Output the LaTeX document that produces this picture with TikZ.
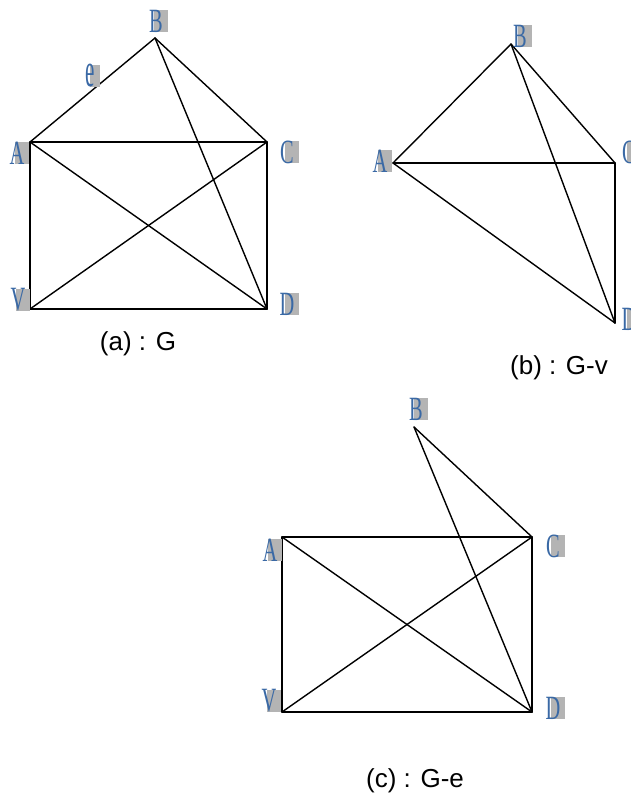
\documentclass[tikz,border=0pt]{standalone}
\usepackage{fontspec}
\usepackage{graphicx}
\newfontfamily\capfont{Liberation Sans}
\newfontfamily\vfont{Liberation Serif}
\definecolor{lblblue}{HTML}{3A69A5}
\definecolor{lblgray}{HTML}{B4B4B4}
\newcommand\vlet[1]{\scalebox{0.6}[1]{\fontsize{34pt}{34pt}\selectfont\vfont #1}}
\newcommand\vlab[1]{\makebox[0pt][l]{\hspace*{-5pt}\textcolor{lblblue}{\vlet{#1}}}\phantom{\vlet{#1}}}
\newcommand\elet{\scalebox{0.62}[1.4]{\fontsize{34pt}{34pt}\selectfont\vfont e}}
\newcommand\elab{\makebox[0pt][l]{\hspace*{-5pt}\textcolor{lblblue}{\elet}}\phantom{\elet}}
\tikzset{
  vlbl/.style={fill=lblgray, inner sep=0pt, anchor=center},
  edge/.style={line width=1.4pt, line cap=round, line join=round},
  capt/.style={inner sep=0pt, font=\capfont\fontsize{26pt}{26pt}\selectfont}
}
\begin{document}
\begin{tikzpicture}[x=1pt,y=-1pt]
\useasboundingbox (0,0) rectangle (630,798);
% ---------- (a) G ----------
\coordinate (aB) at (155,38);
\coordinate (aA) at (30,142);
\coordinate (aC) at (267,142);
\coordinate (aV) at (30,309);
\coordinate (aD) at (267,309);
\draw[edge] (aA) -- (aB);
\draw[edge] (aB) -- (aC);
\draw[edge] (aB) -- (aD);
\draw[edge] (aA) -- (aC);
\draw[edge] (aA) -- (aV);
\draw[edge] (aV) -- (aD);
\draw[edge] (aC) -- (aD);
\draw[edge] (aA) -- (aD);
\draw[edge] (aV) -- (aC);
\node[vlbl] (laB) at (161,21) {\vlab{B}};
\node[vlbl] (laA) at (22,153) {\vlab{A}};
\node[vlbl] (laC) at (292,152) {\vlab{C}};
\node[vlbl] (laV) at (23,300) {\vlab{V}};
\node[vlbl] (laD) at (292,304) {\vlab{D}};
\node[vlbl] (lae) at (95,76) {\elab};
\node[capt] (capa) at (138,344) {(a) : G};
% ---------- (b) G-v ----------
\coordinate (bB) at (511,44);
\coordinate (bA) at (393,163);
\coordinate (bC) at (615,163);
\coordinate (bD) at (615,323);
\draw[edge] (bA) -- (bB);
\draw[edge] (bB) -- (bC);
\draw[edge] (bA) -- (bC);
\draw[edge] (bC) -- (bD);
\draw[edge] (bA) -- (bD);
\draw[edge] (bB) -- (bD);
\node[vlbl] (lbB) at (525,36) {\vlab{B}};
\node[vlbl] (lbA) at (385,161) {\vlab{A}};
\node[vlbl] (lbC) at (634,152) {\vlab{C}};
\node[vlbl] (lbD) at (634,319) {\vlab{D}};
\node[capt] (capb) at (559,368) {(b) : G-v};
% ---------- (c) G-e ----------
\coordinate (cB) at (414,427);
\coordinate (cA) at (282,537);
\coordinate (cC) at (532,537);
\coordinate (cV) at (282,712);
\coordinate (cD) at (532,712);
\draw[edge] (cA) -- (cC);
\draw[edge] (cA) -- (cV);
\draw[edge] (cV) -- (cD);
\draw[edge] (cC) -- (cD);
\draw[edge] (cA) -- (cD);
\draw[edge] (cV) -- (cC);
\draw[edge] (cB) -- (cC);
\draw[edge] (cB) -- (cD);
\node[vlbl] (lcB) at (421,409) {\vlab{B}};
\node[vlbl] (lcA) at (275,550) {\vlab{A}};
\node[vlbl] (lcC) at (558,546) {\vlab{C}};
\node[vlbl] (lcV) at (274,701) {\vlab{V}};
\node[vlbl] (lcD) at (558,708) {\vlab{D}};
\node[capt] (capc) at (415,781) {(c) : G-e};
\end{tikzpicture}
\end{document}
